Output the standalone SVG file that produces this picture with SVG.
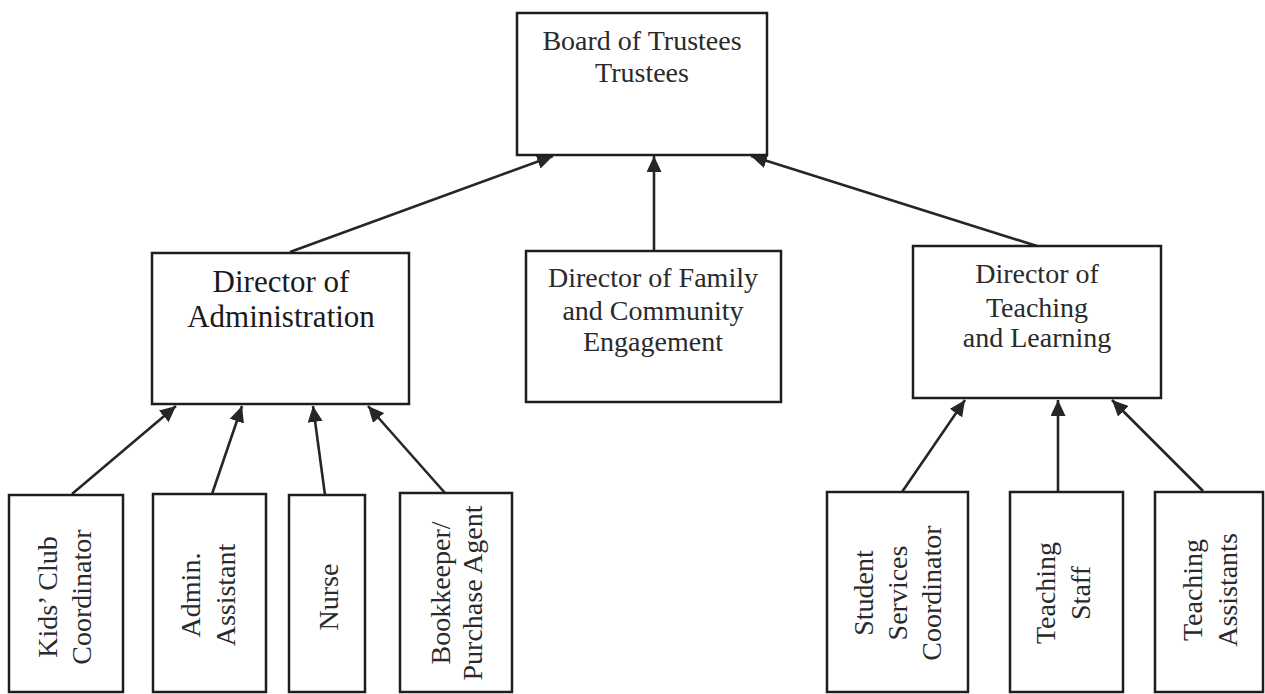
<svg xmlns="http://www.w3.org/2000/svg" width="1265" height="694" viewBox="0 0 1265 694">
<style>
.box{fill:#fff;stroke:#1e1e1e;stroke-width:2.5}
.t{font-family:"Liberation Serif","Times New Roman",serif;font-size:28px;fill:#2a2a2a;text-anchor:middle}
.big{font-size:31px;fill:#1a1a1a}
.con{stroke:#262626;stroke-width:2.6;fill:none;marker-end:url(#ah)}
</style>
<defs>
<marker id="ah" markerUnits="userSpaceOnUse" markerWidth="17" markerHeight="15" refX="16" refY="7.5" orient="auto">
<path d="M0,0 L16,7.5 L0,15 z" fill="#262626"/>
</marker>
</defs>
<rect width="1265" height="694" fill="#fff"/>
<g id="connectors">
<line class="con" x1="290" y1="252" x2="553" y2="156"/>
<line class="con" x1="654" y1="251" x2="654" y2="156"/>
<line class="con" x1="1037" y1="246" x2="751" y2="156"/>
<line class="con" x1="72" y1="494" x2="176" y2="406"/>
<line class="con" x1="212" y1="494" x2="242" y2="406"/>
<line class="con" x1="325" y1="495" x2="313" y2="406"/>
<line class="con" x1="445" y1="493" x2="368" y2="406"/>
<line class="con" x1="902" y1="492" x2="965" y2="400"/>
<line class="con" x1="1058" y1="492" x2="1058" y2="400"/>
<line class="con" x1="1203" y1="491" x2="1112" y2="400"/>
</g>
<g id="board">
<rect class="box" x="517" y="13" width="250" height="142"/>
<text class="t" x="642" y="50">Board of Trustees</text>
<text class="t" x="642" y="82">Trustees</text>
</g>
<g id="dir-admin">
<rect class="box" x="152" y="253" width="257" height="151"/>
<text class="t big" x="281" y="292">Director of</text>
<text class="t big" x="281" y="327">Administration</text>
</g>
<g id="dir-family">
<rect class="box" x="526" y="251" width="255" height="151"/>
<text class="t" x="653" y="287">Director of Family</text>
<text class="t" x="653" y="320">and Community</text>
<text class="t" x="653" y="351">Engagement</text>
</g>
<g id="dir-teaching">
<rect class="box" x="913" y="246" width="248" height="152"/>
<text class="t" x="1037" y="283">Director of</text>
<text class="t" x="1037" y="317">Teaching</text>
<text class="t" x="1037" y="347">and Learning</text>
</g>
<g id="kids-club">
<rect class="box" x="9" y="495" width="114" height="197"/>
<text class="t" transform="translate(57,597) rotate(-90)"><tspan x="0" y="0">Kids’ Club</tspan><tspan x="0" y="34">Coordinator</tspan></text>
</g>
<g id="admin-assistant">
<rect class="box" x="153" y="494" width="113" height="198"/>
<text class="t" transform="translate(200,595) rotate(-90)"><tspan x="0" y="0">Admin.</tspan><tspan x="0" y="35">Assistant</tspan></text>
</g>
<g id="nurse">
<rect class="box" x="289" y="495" width="76" height="197"/>
<text class="t" transform="translate(338,597) rotate(-90)">Nurse</text>
</g>
<g id="bookkeeper">
<rect class="box" x="400" y="493" width="112" height="199"/>
<text class="t" transform="translate(450,593) rotate(-90)"><tspan x="0" y="0">Bookkeeper/</tspan><tspan x="0" y="32">Purchase Agent</tspan></text>
</g>
<g id="student-services">
<rect class="box" x="827" y="492" width="141" height="200"/>
<text class="t" transform="translate(873,593) rotate(-90)"><tspan x="0" y="0">Student</tspan><tspan x="0" y="34">Services</tspan><tspan x="0" y="68">Coordinator</tspan></text>
</g>
<g id="teaching-staff">
<rect class="box" x="1010" y="492" width="113" height="200"/>
<text class="t" transform="translate(1055,593) rotate(-90)"><tspan x="0" y="0">Teaching</tspan><tspan x="0" y="35">Staff</tspan></text>
</g>
<g id="teaching-assistants">
<rect class="box" x="1155" y="492" width="108" height="200"/>
<text class="t" transform="translate(1202,590) rotate(-90)"><tspan x="0" y="0">Teaching</tspan><tspan x="0" y="35">Assistants</tspan></text>
</g>
</svg>
